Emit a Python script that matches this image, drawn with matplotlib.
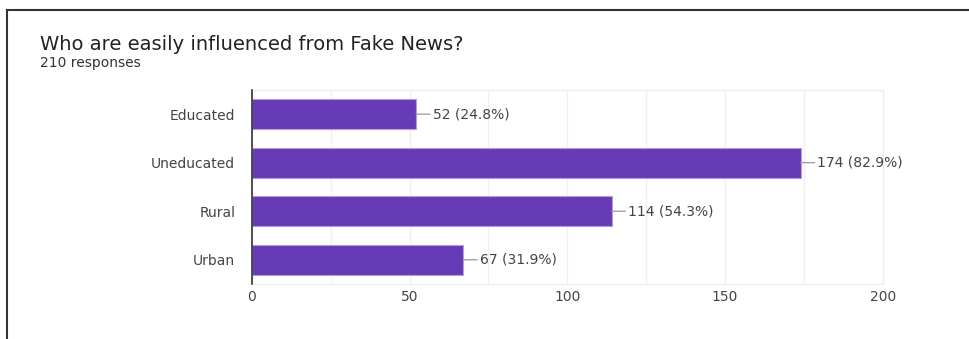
import matplotlib.pyplot as plt
from matplotlib.lines import Line2D

# Survey answers
categories = ['Educated', 'Uneducated', 'Rural', 'Urban']
counts = [52, 174, 114, 67]
total = 210
title = 'Who are easily influenced from Fake News?'
subtitle = f'{total} responses'
xticks = [0, 50, 100, 150, 200]

bar_color = '#673ab7'
text_color = '#444444'
font = 'DejaVu Sans'

fig = plt.figure(figsize=(9.69, 3.39), dpi=100)
ax = fig.add_axes([0.260, 0.162, 0.651, 0.573])

y = range(len(categories))
ax.barh(y, counts, height=0.62, color=bar_color, edgecolor='#b39ddb', linewidth=0.8, zorder=3)

ax.set_ylim(len(categories) - 0.5, -0.5)
ax.set_xlim(0, 200)
ax.set_yticks(list(y))
ax.set_yticklabels(categories, fontsize=10, color=text_color, family=font)
ax.set_xticks(xticks)
ax.set_xticklabels([str(t) for t in xticks], fontsize=10, color=text_color, family=font)
ax.set_xticks(range(25, 200, 50), minor=True)
ax.tick_params(axis='both', length=0)
ax.tick_params(axis='x', pad=4)
ax.tick_params(axis='y', pad=12)
ax.tick_params(axis='x', which='minor', length=0)

ax.grid(axis='x', which='both', color='#f0f0f0', linewidth=1, zorder=0)
for side in ['top', 'right', 'bottom']:
    ax.spines[side].set_color('#eeeeee')
    ax.spines[side].set_linewidth(1)
ax.spines['left'].set_color('#333333')
ax.spines['left'].set_linewidth(1.2)
ax.spines['left'].set_zorder(4)

# value labels with a short leader line
for i, c in enumerate(counts):
    pct = c / total * 100
    ax.annotate(f'{c} ({pct:.1f}%)', xy=(c, i), xytext=(12, 0), textcoords='offset points',
                va='center', ha='left', fontsize=10, color=text_color, family=font,
                arrowprops=dict(arrowstyle='-', color='#999999', lw=0.9, shrinkA=0, shrinkB=0))

fig.text(40 / 969, 1 - 44 / 339, title, fontsize=14, color='#222222', family=font, va='center')
fig.text(40 / 969, 1 - 63 / 339, subtitle, fontsize=10, color='#333333', family=font, va='center')

# frame lines around the card
fig.add_artist(Line2D([7 / 969, 1], [1 - 10 / 339, 1 - 10 / 339], color='#333333', lw=1.5))
fig.add_artist(Line2D([7 / 969, 7 / 969], [0, 1 - 10 / 339], color='#333333', lw=1.5))

fig.savefig('out.png', dpi=100)
